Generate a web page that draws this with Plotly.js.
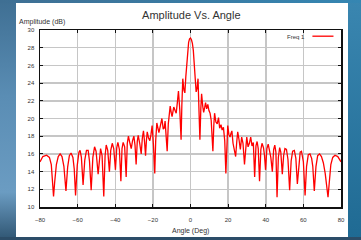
<!DOCTYPE html>
<html><head><meta charset="utf-8">
<script src="https://cdn.plot.ly/plotly-3.0.1.min.js"></script>
<style>
html,body{margin:0;padding:0;width:361px;height:240px;overflow:hidden;}
body{background:linear-gradient(180deg,#3f6f93 0%,#5a8db4 40%,#6b9cc2 80%,#2f5572 100%);position:relative;}
#bgR{position:absolute;left:348px;top:0;width:13px;height:240px;background:linear-gradient(180deg,#3a86b0,#1f6a93);}
#bgT{position:absolute;left:0;top:0;width:361px;height:3px;background:linear-gradient(90deg,#3f6f93,#3586b2);}
#bgB{position:absolute;left:0;top:237px;width:361px;height:3px;background:#2c4d68;}
#panel{position:absolute;left:16px;top:3px;width:332px;height:234px;background:#ffffff;}
#chart{position:absolute;left:0;top:0;width:361px;height:240px;}
</style></head>
<body>
<div id="bgR"></div><div id="bgT"></div><div id="bgB"></div>
<div id="panel"></div>
<div id="chart"></div>
<script>
const chartTitle = "Amplitude Vs. Angle";
const xTitle = "Angle (Deg)";
const yTitle = "Amplitude (dB)";
const seriesName = "Freq 1";
const xTicks = [-80,-60,-40,-20,0,20,40,60,80];
const yTicks = [10,12,14,16,18,20,22,24,26,28,30];

const angleLeft = [-80,-78.5,-76.5,-75,-74,-73.2,-72.8,-72.2,-71.3,-70.3,-69.3,-68.3,-67.3,-66.2,-65.3,-64.4,-63.5,-62.5,-61.8,-61.1,-60.2,-59.3,-58.7,-58.0,-57.1,-56.2,-55.3,-54.4,-53.7,-52.8,-51.9,-51.0,-50.2,-49.1,-48.4,-47.8,-47.0,-46.1,-45.4,-44.8,-44.0,-43.1,-42.4,-41.6,-40.8,-39.9,-39.2,-38.6,-37.8,-37.0,-36.4,-35.8,-35.0,-34.2,-33.6,-33.0,-32.2,-31.5,-30.8,-30.1,-29.5,-28.9,-28.3,-27.8,-27.0,-26.2,-25.6,-25.0,-24.4,-23.9,-23.4,-23.0,-22.3,-21.6,-21.0,-20.4,-19.7,-19.0,-18.5,-17.9,-17.3,-16.8,-16.0,-15.2,-14.5,-14.0,-13.5,-13.0,-12.4,-11.8,-10.8,-10.2,-9.8,-9.3,-8.9,-8.2,-7.6,-7.0,-6.4,-5.7,-5.0,-4.6,-4.1,-3.5,-3.0,-2.5,-2.0,-1.5,-1.0,-0.5];
const ampLeft = [15.1,15.7,15.85,15.6,14.8,13.0,11.2,12.8,14.8,15.7,16.0,15.7,14.6,11.8,14.5,15.8,16.1,15.6,14.3,11.3,14.7,16.2,16.4,15.6,12.5,15.3,16.4,16.4,15.2,11.9,15.6,16.8,16.3,13.7,15.9,16.6,15.8,11.2,15.8,17.0,16.4,14.0,16.4,17.2,16.6,14.2,16.7,17.3,16.5,12.9,16.6,17.3,16.8,13.4,17.2,18.0,17.2,16.6,17.5,18.0,17.0,14.8,17.4,18.1,17.2,16.0,17.8,18.6,17.3,15.8,17.6,18.5,17.8,17.5,18.2,19.2,17.0,13.8,17.5,19.5,18.9,18.4,19.2,20.0,18.8,18.9,19.7,18.5,16.3,19.4,21.4,20.6,20.2,20.8,21.3,20.9,20.6,21.8,23.1,21.0,17.6,21.5,24.5,23.2,22.9,24.7,26.4,27.8,28.6,29.0];

const angleCenter = [0];
const ampCenter = [29.1];

const angleRight = [0.5,1.0,1.5,2.0,2.5,3.0,3.5,4.0,4.5,5.0,5.5,5.9,6.5,7.0,7.5,8.0,8.6,9.2,9.8,10.4,11.0,11.9,12.4,12.8,13.5,14.2,14.9,15.5,16.2,16.8,17.5,18.2,18.8,19.3,19.8,20.4,21.0,21.5,22.0,22.6,23.2,24.0,24.6,25.1,25.8,26.5,27.2,27.9,28.7,29.3,29.9,30.6,31.3,32.0,32.7,33.4,34.1,34.8,35.4,36.0,36.7,37.4,38.0,38.8,39.3,39.9,40.6,41.3,41.9,42.7,43.5,44.2,44.8,45.4,46.0,46.7,47.4,48.0,48.8,49.5,50.2,51.0,51.8,52.7,53.5,54.3,55.2,56.0,56.8,57.6,58.3,59.0,60.0,60.9,61.7,62.6,63.5,64.4,65.0,65.8,66.7,67.6,68.6,69.6,70.6,71.6,72.4,73.1,73.7,74.6,75.6,76.8,78.3,80];
const ampRight = [28.9,28.5,27.7,26.4,24.7,23.0,23.4,24.5,21.0,17.6,21.2,22.8,21.4,20.7,21.2,21.8,21.1,21.6,20.9,20.6,19.8,16.3,19.3,20.6,19.6,19.4,20.1,18.9,19.3,18.7,19.0,17.5,13.8,17.4,19.2,18.2,17.9,18.3,18.6,17.2,16.6,15.7,17.4,18.5,17.6,16.5,17.9,17.2,14.8,17.1,17.9,16.8,17.2,17.9,16.9,17.3,13.4,16.9,17.4,16.6,12.9,16.5,17.2,16.7,15.9,14.2,16.6,17.1,16.5,15.6,14.0,16.5,17.0,16.2,11.1,15.6,16.7,16.2,13.7,15.8,16.6,16.5,15.4,11.9,15.2,16.3,16.4,15.5,12.6,15.1,16.2,16.3,15.1,11.3,14.6,15.9,16.0,15.5,14.6,11.8,14.6,15.8,16.0,15.7,15.0,13.8,12.4,11.1,12.6,14.8,15.6,15.85,15.7,15.1];

const angle = angleLeft.concat(angleCenter, angleRight);
const amp = ampLeft.concat(ampCenter, ampRight);

const txtColor = "#333333";
const fontFam = "Liberation Sans, Arial, sans-serif";

const data = [{
  x: angle, y: amp, type: "scatter", mode: "lines", name: seriesName,
  line: {color: "#ff0000", width: 1.3}, showlegend: false
}];

const axisCommon = {
  showline: true, linecolor: "#111111", linewidth: 1.5, mirror: "ticks",
  ticks: "inside", ticklen: 3, tickwidth: 1, tickcolor: "#111111",
  showgrid: true, gridcolor: "#c6c6c6", gridwidth: 1.5, zeroline: false,
  tickfont: {family: fontFam, size: 6, color: txtColor}
};

const layout = {
  width: 361, height: 240,
  margin: {l: 40, r: 20, t: 30, b: 33, pad: 0},
  paper_bgcolor: "rgba(0,0,0,0)", plot_bgcolor: "#ffffff",
  title: {text: chartTitle, font: {family: fontFam, size: 11, color: txtColor}, x: 0.53, xanchor: "center", y: 0.937, yanchor: "middle"},
  xaxis: Object.assign({}, axisCommon, {range: [-80, 80], tickvals: xTicks, ticklabelstandoff: 6}),
  yaxis: Object.assign({}, axisCommon, {range: [10, 30], tickvals: yTicks, ticklabelstandoff: 3}),
  annotations: [
    {text: yTitle, xref: "paper", yref: "paper", x: -0.078, y: 1.045, xanchor: "left", yanchor: "middle", showarrow: false, font: {family: fontFam, size: 7, color: txtColor}},
    {text: xTitle, xref: "paper", yref: "paper", x: 0.5, y: -0.136, xanchor: "center", yanchor: "middle", showarrow: false, font: {family: fontFam, size: 7, color: txtColor}},
    {text: seriesName, xref: "paper", yref: "paper", x: 0.888, y: 0.96, xanchor: "right", yanchor: "middle", showarrow: false, font: {family: fontFam, size: 6, color: txtColor}}
  ],
  shapes: [
    {type: "line", xref: "paper", yref: "paper", x0: 0.905, x1: 0.975, y0: 0.965, y1: 0.965, line: {color: "#ff0000", width: 1.3}}
  ]
};

Plotly.newPlot("chart", data, layout, {staticPlot: true, displayModeBar: false});
</script>
</body></html>
